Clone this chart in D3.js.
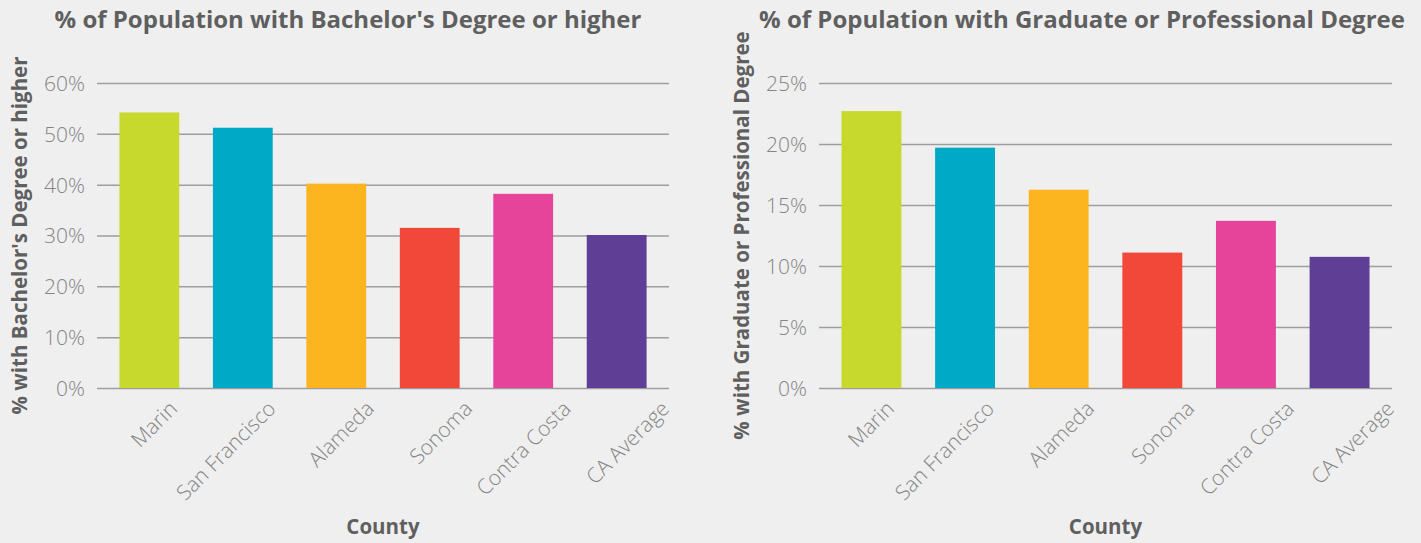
<!DOCTYPE html>
<html>
<head>
<meta charset="utf-8">
<script src="https://cdn.jsdelivr.net/npm/d3@7"></script>
<style>
  html, body { margin: 0; padding: 0; background: #efefef; }
  svg { display: block; }
</style>
</head>
<body>
<div id="chart"></div>
<script>
const counties = ['Marin', 'San Francisco', 'Alameda', 'Sonoma', 'Contra Costa', 'CA Average']
const colors = ['#c8d92e', '#00aac7', '#fcb51f', '#f2483a', '#e5449a', '#5f3e96']
const bachelorValues = [54.2, 51.2, 40.2, 31.5, 38.2, 30.1]
const graduateValues = [22.7, 19.7, 16.25, 11.1, 13.7, 10.75]
const bachelorTicks = [0, 10, 20, 30, 40, 50, 60]
const graduateTicks = [0, 5, 10, 15, 20, 25]

const width = 1421
const height = 543

const svg = d3.select('#chart')
  .append('svg')
  .attr('width', width)
  .attr('height', height)
  .style('background', '#efefef')

function drawChart(opts) {
  const { left, right, top, bottom, labelRange, values, ticks, title, yTitle, yTitleX, titleX } = opts

  const x = d3.scaleBand()
    .domain(counties)
    .range([left, right])
    .paddingInner(0.36)
    .paddingOuter(0.24)

  // the category labels in the original are spread a little wider than the bars
  const xLabel = d3.scalePoint()
    .domain(counties)
    .range(labelRange)

  const y = d3.scaleLinear()
    .domain([0, d3.max(ticks)])
    .range([bottom, top])

  const g = svg.append('g')

  // grid
  g.append('g')
    .attr('transform', `translate(${left},0)`)
    .call(d3.axisLeft(y).tickValues(ticks).tickSize(-(right - left)).tickFormat((d) => `${d}%`))
    .call((a) => a.select('.domain').remove())
    .call((a) => a.selectAll('.tick line').attr('stroke', '#9e9e9e').attr('stroke-width', 1.5))
    .call((a) => a.selectAll('.tick text')
      .attr('x', -12)
      .attr('dy', '0.35em')
      .attr('fill', '#858585')
      .style('font-family', 'Open Sans')
      .style('font-weight', 300)
      .style('font-size', '21px'))

  // bars
  g.selectAll('rect.bar')
    .data(values)
    .enter()
    .append('rect')
    .attr('class', 'bar')
    .attr('x', (d, i) => x(counties[i]))
    .attr('y', (d) => y(d))
    .attr('width', x.bandwidth())
    .attr('height', (d) => y(0) - y(d))
    .attr('fill', (d, i) => colors[i])

  // x labels
  g.append('g')
    .attr('transform', `translate(0,${bottom})`)
    .call(d3.axisBottom(xLabel).tickSize(0).tickPadding(0))
    .call((a) => a.select('.domain').remove())
    .selectAll('text')
    .attr('text-anchor', 'end')
    .attr('dy', 0)
    .attr('transform', 'translate(0,22) rotate(-45)')
    .attr('fill', '#858585')
    .style('font-family', 'Open Sans')
    .style('font-weight', 300)
    .style('font-size', '21px')

  // titles
  g.append('text')
    .attr('x', titleX)
    .attr('y', 28)
    .attr('text-anchor', 'middle')
    .attr('fill', '#5f5f5f')
    .style('font-family', 'Open Sans')
    .style('font-weight', 700)
    .style('font-size', '24px')
    .text(title)

  g.append('text')
    .attr('transform', `translate(${yTitleX},${(top + bottom) / 2}) rotate(-90)`)
    .attr('text-anchor', 'middle')
    .attr('fill', '#5f5f5f')
    .style('font-family', 'Open Sans')
    .style('font-weight', 700)
    .style('font-size', '20.5px')
    .text(yTitle)

  g.append('text')
    .attr('x', (left + right) / 2)
    .attr('y', 534)
    .attr('text-anchor', 'middle')
    .attr('fill', '#5f5f5f')
    .style('font-family', 'Open Sans')
    .style('font-weight', 700)
    .style('font-size', '20.5px')
    .text('County')
}

drawChart({
  left: 97, right: 669, top: 83, bottom: 388, labelRange: [178, 670],
  values: bachelorValues, ticks: bachelorTicks,
  title: "% of Population with Bachelor's Degree or higher",
  yTitle: "% with Bachelor's Degree or higher",
  yTitleX: 27, titleX: 348
})

drawChart({
  left: 819, right: 1392, top: 83, bottom: 388, labelRange: [895, 1395],
  values: graduateValues, ticks: graduateTicks,
  title: '% of Population with Graduate or Professional Degree',
  yTitle: '% with Graduate or Professional Degree',
  yTitleX: 749, titleX: 1082
})
</script>
</body>
</html>
